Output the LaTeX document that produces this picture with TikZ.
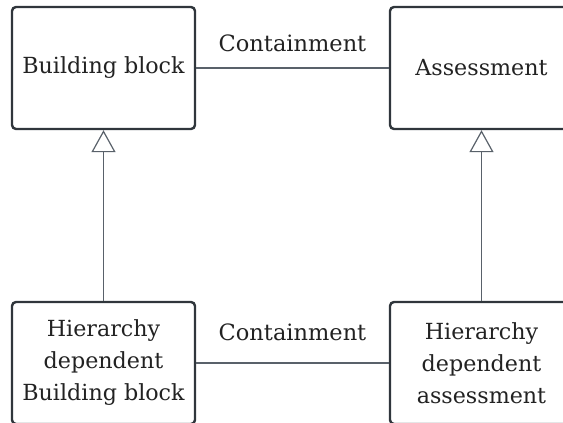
\documentclass[tikz,border=0pt]{standalone}
\usepackage{fontspec}
\setmainfont{DejaVu Serif}
\usepackage{xcolor}
\usetikzlibrary{arrows.meta}
\definecolor{boxline}{HTML}{30363C}
\definecolor{connline}{HTML}{59616A}
\definecolor{textcol}{HTML}{222222}
\tikzset{
  blockbox/.style={draw=boxline, line width=2.4pt, rounded corners=4pt, minimum width=183pt,
    minimum height=122pt, align=center, text=textcol, font=\fontsize{22.2}{32}\selectfont},
  conn/.style={draw=connline, line width=1.2pt},
  inherit/.style={conn, -{Triangle[open, width=24pt, length=22pt, line width=1.2pt]}},
  connlabel/.style={text=textcol, font=\fontsize{22.5}{26}\selectfont}
}
\begin{document}
\begin{tikzpicture}[x=1pt,y=-1pt]
    \useasboundingbox (0,0) rectangle (563,423);
    \clip (0,0) rectangle (563,423);
    \node[blockbox] (bb) at (103.5,68) {Building block};
    \node[blockbox] (as) at (481.5,68) {Assessment};
    \node[blockbox] (hbb) at (103.5,363) {Hierarchy\\dependent\\Building block};
    \node[blockbox] (has) at (481.5,363) {Hierarchy\\dependent\\assessment};
    \draw[conn] (bb) -- node[connlabel, above=12pt] {Containment} (as);
    \draw[conn] (hbb) -- node[connlabel, above=18pt] {Containment} (has);
    \draw[inherit] (hbb) -- (bb);
    \draw[inherit] (has) -- (as);
  \end{tikzpicture}
\end{document}
